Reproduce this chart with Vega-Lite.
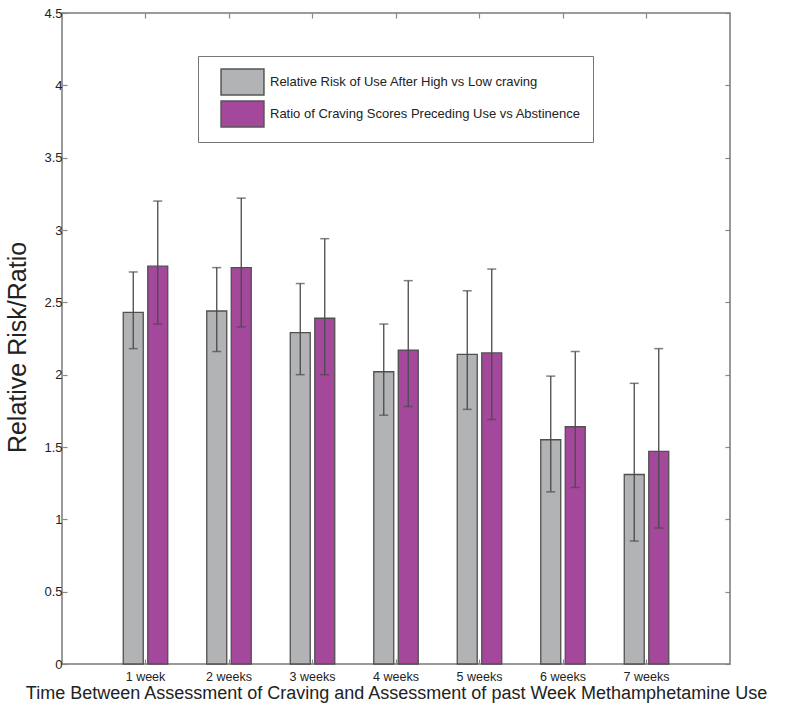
{
  "$schema": "https://vega.github.io/schema/vega-lite/v6.json",
  "width": 668,
  "height": 651,
  "padding": {"left": 5, "top": 7, "right": 5, "bottom": 0},
  "background": "white",
  "config": {
    "font": "Liberation Sans",
    "view": {"stroke": "#7a7a7a", "strokeWidth": 1.5}
  },
  "data": {
    "values": [
      {"week": "1 week", "series": "Relative Risk of Use After High vs Low craving", "value": 2.43, "lo": 2.18, "hi": 2.71},
      {"week": "1 week", "series": "Ratio of Craving Scores Preceding Use vs Abstinence", "value": 2.75, "lo": 2.35, "hi": 3.20},
      {"week": "2 weeks", "series": "Relative Risk of Use After High vs Low craving", "value": 2.44, "lo": 2.16, "hi": 2.74},
      {"week": "2 weeks", "series": "Ratio of Craving Scores Preceding Use vs Abstinence", "value": 2.74, "lo": 2.33, "hi": 3.22},
      {"week": "3 weeks", "series": "Relative Risk of Use After High vs Low craving", "value": 2.29, "lo": 2.00, "hi": 2.63},
      {"week": "3 weeks", "series": "Ratio of Craving Scores Preceding Use vs Abstinence", "value": 2.39, "lo": 2.00, "hi": 2.94},
      {"week": "4 weeks", "series": "Relative Risk of Use After High vs Low craving", "value": 2.02, "lo": 1.72, "hi": 2.35},
      {"week": "4 weeks", "series": "Ratio of Craving Scores Preceding Use vs Abstinence", "value": 2.17, "lo": 1.78, "hi": 2.65},
      {"week": "5 weeks", "series": "Relative Risk of Use After High vs Low craving", "value": 2.14, "lo": 1.76, "hi": 2.58},
      {"week": "5 weeks", "series": "Ratio of Craving Scores Preceding Use vs Abstinence", "value": 2.15, "lo": 1.69, "hi": 2.73},
      {"week": "6 weeks", "series": "Relative Risk of Use After High vs Low craving", "value": 1.55, "lo": 1.19, "hi": 1.99},
      {"week": "6 weeks", "series": "Ratio of Craving Scores Preceding Use vs Abstinence", "value": 1.64, "lo": 1.22, "hi": 2.16},
      {"week": "7 weeks", "series": "Relative Risk of Use After High vs Low craving", "value": 1.31, "lo": 0.85, "hi": 1.94},
      {"week": "7 weeks", "series": "Ratio of Craving Scores Preceding Use vs Abstinence", "value": 1.47, "lo": 0.94, "hi": 2.18}
    ]
  },
  "resolve": {"axis": {"x": "independent", "y": "independent"}},
  "layer": [
    {
      "mark": {"type": "bar", "stroke": "#505050", "strokeWidth": 1.3},
      "encoding": {
        "x": {
          "field": "week", "type": "nominal", "sort": null,
          "scale": {"paddingInner": 0, "paddingOuter": 0.5},
          "axis": {
            "orient": "bottom", "title": "Time Between Assessment of Craving and Assessment of past Week Methamphetamine Use",
            "titleFontSize": 18, "titleFontWeight": "normal", "titleColor": "#222", "titlePadding": 2,
            "labelAngle": 0, "labelFontSize": 12.5, "labelColor": "#222", "labelPadding": 11,
            "domain": false, "tickSize": -5, "tickColor": "#888", "tickWidth": 1.2
          }
        },
        "xOffset": {
          "field": "series", "type": "nominal",
          "sort": ["Relative Risk of Use After High vs Low craving", "Ratio of Craving Scores Preceding Use vs Abstinence"],
          "scale": {"paddingInner": 0.184, "paddingOuter": 0.796}
        },
        "y": {
          "field": "value", "type": "quantitative",
          "scale": {"domain": [0, 4.5], "nice": false},
          "axis": {
            "orient": "left", "title": "Relative Risk/Ratio", "values": [0, 0.5, 1, 1.5, 2, 2.5, 3, 3.5, 4, 4.5],
            "format": ".1~f",
            "titleFontSize": 25, "titleFontWeight": "normal", "titleColor": "#222", "titlePadding": 13, "titleY": 334,
            "labelFontSize": 13, "labelColor": "#222", "labelPadding": 5,
            "grid": false, "domain": false, "tickSize": -5, "tickColor": "#888", "tickWidth": 1.2
          }
        },
        "color": {
          "field": "series", "type": "nominal",
          "sort": ["Relative Risk of Use After High vs Low craving", "Ratio of Craving Scores Preceding Use vs Abstinence"],
          "scale": {"range": ["#b1b3b5", "#a4489c"]},
          "legend": {
            "orient": "none", "legendX": 136, "legendY": 43,
            "title": null, "symbolType": "M-1.65,-1H1.65V1H-1.65Z", "symbolSize": 676,
            "symbolStrokeColor": "#555", "symbolStrokeWidth": 1.5, "symbolOpacity": 1,
            "labelFontSize": 13, "labelColor": "#222", "labelLimit": 400,
            "rowPadding": 0, "padding": 12, "symbolOffset": 18.5, "labelOffset": 13.5,
            "strokeColor": "#777", "fillColor": "white"
          }
        }
      }
    },
    {
      "mark": {"type": "rule", "color": "#4a4a4a", "strokeWidth": 1.3},
      "encoding": {
        "x": {"field": "week", "type": "nominal", "sort": null, "axis": {"orient": "top", "title": null, "labels": false, "domain": false, "tickSize": -5, "tickColor": "#888", "tickWidth": 1.2}},
        "xOffset": {"field": "series", "type": "nominal", "sort": ["Relative Risk of Use After High vs Low craving", "Ratio of Craving Scores Preceding Use vs Abstinence"]},
        "y": {"field": "lo", "type": "quantitative", "axis": {"orient": "right", "title": null, "labels": false, "domain": false, "grid": false, "values": [0, 0.5, 1, 1.5, 2, 2.5, 3, 3.5, 4, 4.5], "tickSize": -5, "tickColor": "#888", "tickWidth": 1.2}},
        "y2": {"field": "hi"}
      }
    },
    {
      "mark": {"type": "tick", "color": "#4a4a4a", "thickness": 1.5, "size": 9},
      "encoding": {
        "x": {"field": "week", "type": "nominal", "sort": null, "axis": null},
        "xOffset": {"field": "series", "type": "nominal", "sort": ["Relative Risk of Use After High vs Low craving", "Ratio of Craving Scores Preceding Use vs Abstinence"]},
        "y": {"field": "lo", "type": "quantitative", "axis": null}
      }
    },
    {
      "mark": {"type": "tick", "color": "#4a4a4a", "thickness": 1.5, "size": 9},
      "encoding": {
        "x": {"field": "week", "type": "nominal", "sort": null, "axis": null},
        "xOffset": {"field": "series", "type": "nominal", "sort": ["Relative Risk of Use After High vs Low craving", "Ratio of Craving Scores Preceding Use vs Abstinence"]},
        "y": {"field": "hi", "type": "quantitative", "axis": null}
      }
    }
  ]
}
